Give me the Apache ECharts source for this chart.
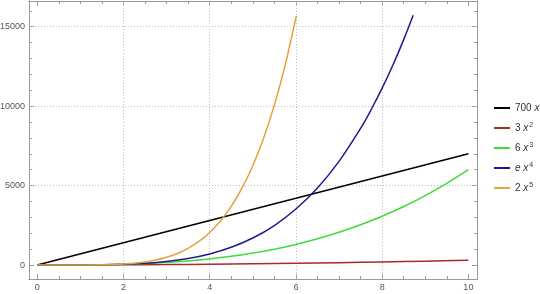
<!DOCTYPE html>
<html><head><meta charset="utf-8">
<script src="https://cdn.jsdelivr.net/npm/echarts@6/dist/echarts.min.js"></script>
<style>html,body{margin:0;padding:0;background:#fff}#c{width:540px;height:294px}</style>
</head><body><div id="c"></div>
<script>
const seriesNames = ['700 x', '3 x²', '6 x³', 'e x⁴', '2 x⁵'];
const xLin = [0, 10];
const yLin = [0, 7000];
const xSq = [0, 1, 2, 3, 4, 5, 6, 7, 8, 9, 10];
const ySq = [0, 3, 12, 27, 48, 75, 108, 147, 192, 243, 300];
const xCube = [0, 0.5, 1, 1.5, 2, 2.5, 3, 3.5, 4, 4.5, 5, 5.5, 6, 6.5, 7, 7.5, 8, 8.5, 9, 9.5, 10];
const yCube = [0, 0.75, 6, 20, 48, 94, 162, 257, 384, 547, 750, 998, 1296, 1648, 2058, 2531, 3072, 3685, 4374, 5144, 6000];
const xQuart = [0, 0.5, 1, 1.5, 2, 2.5, 3, 3.5, 4, 4.5, 5, 5.5, 6, 6.5, 7, 7.5, 7.75, 8, 8.25, 8.5, 8.72];
const yQuart = [0, 0.17, 2.7, 14, 43, 106, 220, 408, 696, 1115, 1699, 2487, 3523, 4852, 6527, 8601, 9806, 11134, 12592, 14190, 15717];
const xQuint = [0, 0.5, 1, 1.5, 2, 2.5, 2.75, 3, 3.25, 3.5, 3.75, 4, 4.25, 4.5, 4.75, 5, 5.25, 5.5, 5.75, 6, 6.01];
const yQuint = [0, 0.06, 2, 15, 64, 195, 315, 486, 725, 1050, 1483, 2048, 2773, 3691, 4836, 6250, 7977, 10066, 12571, 15552, 15680];
const xMajor = [0, 2, 4, 6, 8, 10];
const xMinor = [0.5, 1, 1.5, 2.5, 3, 3.5, 4.5, 5, 5.5, 6.5, 7, 7.5, 8.5, 9, 9.5];
const yMajor = [0, 5000, 10000, 15000];
const yMinor = [1000, 2000, 3000, 4000, 6000, 7000, 8000, 9000, 11000, 12000, 13000, 14000, 16000];
const xGrid = [2, 4, 6, 8];
const yGrid = [5000, 10000, 15000];

const colors = ['#000000', '#a82a2a', '#3cdc3c', '#1c1c8e', '#e3a33a'];
const xsets = [xLin, xSq, xCube, xQuart, xQuint];
const ysets = [yLin, ySq, yCube, yQuart, yQuint];

const frame = '#9a9a9a';
const XMIN = -0.19, XMAX = 10.2, YMIN = -880, YMAX = 16620;
const labelStyle = { color: '#555', fontSize: 9, fontFamily: 'Liberation Sans', margin: 4, formatter: v => String(v) };

function ax(pos, vals, len, labels, min, max) {
  return {
    type: 'value', position: pos, min, max,
    axisLine: { show: true, onZero: false, lineStyle: { color: frame, width: 1 } },
    axisTick: { show: true, inside: true, length: len, customValues: vals, lineStyle: { color: frame } },
    axisLabel: labels ? Object.assign({ show: true, customValues: vals }, labelStyle) : { show: false },
    splitLine: { show: false },
    minorSplitLine: { show: false }
  };
}

const richMap = {
  '700 x': '700 {i|x}',
  '3 x²': '3 {i|x}{s|2}',
  '6 x³': '6 {i|x}{s|3}',
  'e x⁴': '{i|e} {i|x}{s|4}',
  '2 x⁵': '2 {i|x}{s|5}'
};

const gridLineData = xGrid.map(v => ({ xAxis: v })).concat(yGrid.map(v => ({ yAxis: v })));

const chart = echarts.init(document.getElementById('c'));
chart.setOption({
  animation: false,
  backgroundColor: '#fff',
  grid: { left: 29, right: 63, top: 1, bottom: 15, containLabel: false, outerBoundsMode: 'none' },
  xAxis: [
    ax('bottom', xMajor, 5, true, XMIN, XMAX),
    ax('bottom', xMinor, 3, false, XMIN, XMAX),
    ax('top', xMajor, 5, false, XMIN, XMAX),
    ax('top', xMinor, 3, false, XMIN, XMAX)
  ],
  yAxis: [
    ax('left', yMajor, 5, true, YMIN, YMAX),
    ax('left', yMinor, 3, false, YMIN, YMAX),
    ax('right', yMajor, 5, false, YMIN, YMAX),
    ax('right', yMinor, 3, false, YMIN, YMAX)
  ],
  legend: {
    orient: 'vertical', left: 489, top: 98, itemGap: 9,
    itemWidth: 16, itemHeight: 2, icon: 'rect',
    data: seriesNames,
    formatter: n => richMap[n],
    textStyle: {
      color: '#333', fontSize: 10, fontFamily: 'Liberation Sans',
      rich: {
        i: { fontStyle: 'italic', fontSize: 10, color: '#333', fontFamily: 'Liberation Sans' },
        s: { fontSize: 7, color: '#333', fontFamily: 'Liberation Sans', verticalAlign: 'top', padding: [0, 0, 5, 1] }
      }
    }
  },
  series: seriesNames.map((name, k) => ({
    name, type: 'line', symbol: 'none', smooth: 0.35,
    xAxisIndex: 0, yAxisIndex: 0, z: 3,
    color: colors[k],
    itemStyle: { color: colors[k] },
    lineStyle: { width: 1.5, color: colors[k] },
    data: xsets[k].map((x, j) => [x, ysets[k][j]]),
    markLine: k === 0 ? {
      silent: true, z: 1, symbol: ['none', 'none'], label: { show: false },
      lineStyle: { color: '#bdbdbd', type: [1, 2], width: 1 },
      emphasis: { disabled: true },
      data: gridLineData
    } : undefined
  }))
});
</script></body></html>
